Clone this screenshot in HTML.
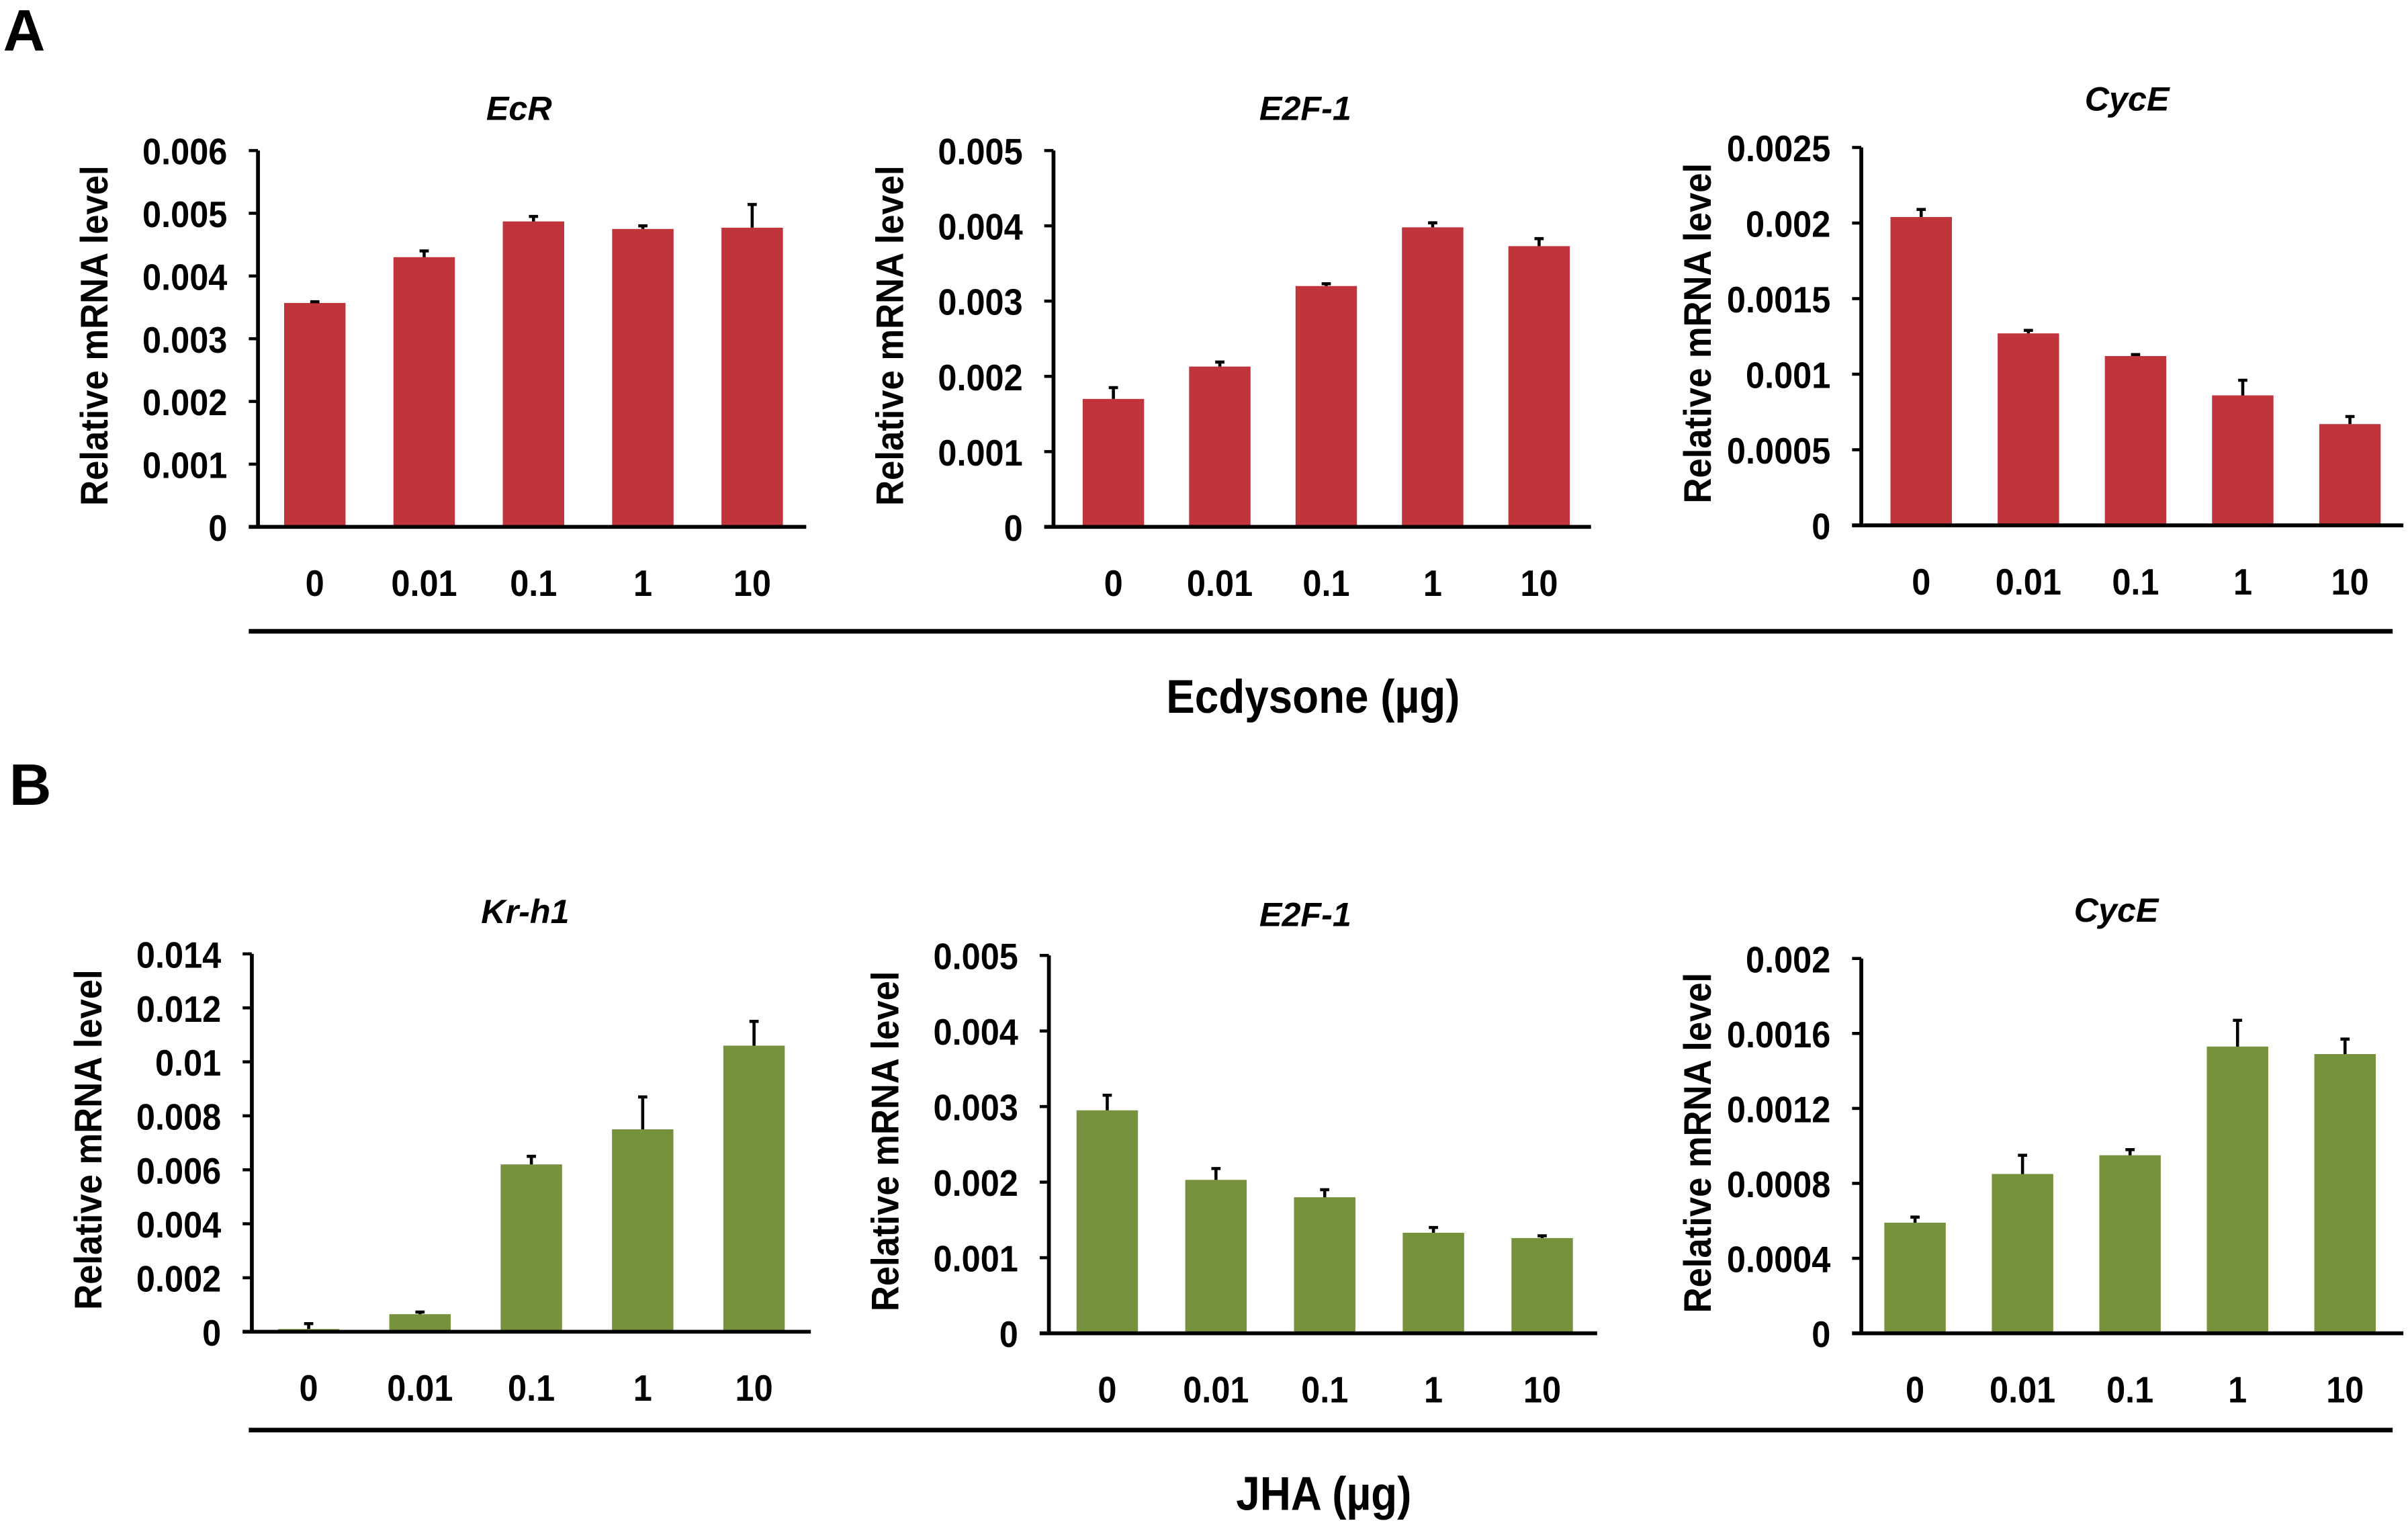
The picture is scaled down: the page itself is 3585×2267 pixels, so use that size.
<!DOCTYPE html>
<html><head><meta charset="utf-8"><style>
html,body{margin:0;padding:0;background:#fff;}
svg{display:block;}
text{font-family:"Liberation Sans",Arial,sans-serif;font-weight:bold;fill:#000;}
</style></head>
<body>
<svg id="fig" width="3585" height="2267" viewBox="0 0 1568 991.5" xmlns="http://www.w3.org/2000/svg">
<text x="2" y="33" font-size="38">A</text>
<text x="6" y="524" font-size="38">B</text>
<line x1="162" y1="411" x2="1558" y2="411" stroke="#000" stroke-width="3"/>
<text x="855" y="464" font-size="31" text-anchor="middle" transform="translate(855 0) scale(0.9 1) translate(-855 0)">Ecdysone (µg)</text>
<line x1="162" y1="931" x2="1558" y2="931" stroke="#000" stroke-width="3"/>
<text x="862" y="983" font-size="31" text-anchor="middle" transform="translate(862 0) scale(0.9 1) translate(-862 0)">JHA (µg)</text>
</svg>
<script>
const categories = ["0","0.01","0.1","1","10"];
const ecrValues = [0.00357,0.0043,0.00487,0.00475,0.00477];
const ecrErrors = [0.00002,0.0001,0.00008,0.00005,0.00037];
const ecrTicks = ["0","0.001","0.002","0.003","0.004","0.005","0.006"];
const e2fAValues = [0.0017,0.00213,0.0032,0.00398,0.00373];
const e2fAErrors = [0.00015,0.00006,0.00003,0.00006,0.0001];
const e2fATicks = ["0","0.001","0.002","0.003","0.004","0.005"];
const cycAValues = [0.00204,0.00127,0.00112,0.00086,0.00067];
const cycAErrors = [0.00005,0.00002,0.00001,0.0001,0.00005];
const cycATicks = ["0","0.0005","0.001","0.0015","0.002","0.0025"];
const krValues = [0.0001,0.00065,0.0062,0.0075,0.0106];
const krErrors = [0.0002,0.00008,0.0003,0.0012,0.0009];
const krTicks = ["0","0.002","0.004","0.006","0.008","0.01","0.012","0.014"];
const e2fBValues = [0.00295,0.00203,0.0018,0.00133,0.00126];
const e2fBErrors = [0.0002,0.00015,0.0001,0.00007,0.00003];
const e2fBTicks = ["0","0.001","0.002","0.003","0.004","0.005"];
const cycBValues = [0.00059,0.00085,0.00095,0.00153,0.00149];
const cycBErrors = [0.00003,0.0001,0.00003,0.00014,0.00008];
const cycBTicks = ["0","0.0004","0.0008","0.0012","0.0016","0.002"];

const NS="http://www.w3.org/2000/svg";
const svg=document.getElementById('fig');
function mk(tag,attrs,parent){const e=document.createElementNS(NS,tag);for(const k in attrs)e.setAttribute(k,attrs[k]);(parent||svg).appendChild(e);return e;}

function chart(o){
  const g=mk('g',{});
  
  
  const max=parseFloat(o.ticks[o.ticks.length-1]);
  const y=v=>o.bottom-(v/max)*(o.bottom-o.top);
  const x=i=>o.x0+i*o.step;
  const t=mk('text',{x:o.tx,y:o.ty,'font-size':22,'font-style':'italic','text-anchor':'middle'},g);
  t.textContent=o.title;
  
  
  const yl=mk('text',{x:0,y:0,'font-size':25,'text-anchor':'middle',transform:`translate(${o.axisX-98} ${(o.top+o.bottom)/2 - 2}) rotate(-90) scale(0.92 1)`},g);
  yl.textContent='Relative mRNA level';
  
  
  o.values.forEach((v,i)=>{
    const cx=x(i);
    const b=mk('rect',{x:cx-20,y:y(v),width:40,height:o.bottom-y(v),fill:o.color},g);
    
    
    const ye=y(v+o.errors[i]);
    const e=mk('path',{d:`M${cx} ${y(v)}V${ye}M${cx-3} ${ye}H${cx+3}`,stroke:'#000','stroke-width':2,fill:'none'},g);
    
    
    const lab=mk('text',{x:0,y:0,'font-size':24,'text-anchor':'middle',transform:`translate(${cx} ${o.bottom+45}) scale(0.92 1)`},g);
    lab.textContent=categories[i];
    
    
  });
  const ax=mk('path',{d:`M${o.axisX} ${o.top}V${o.bottom}M${o.axisX-6} ${o.bottom}H${o.xEnd}`,stroke:'#000','stroke-width':2.5,fill:'none'},g);
  
  
  o.ticks.forEach(tk=>{
    const ty=y(parseFloat(tk));
    mk('line',{x1:o.axisX-6,y1:ty,x2:o.axisX,y2:ty,stroke:'#000','stroke-width':2},g);
    const tl=mk('text',{x:0,y:0,'font-size':24,'text-anchor':'end',transform:`translate(${o.axisX-20} ${ty+9}) scale(0.92 1)`},g);
    tl.textContent=tk;
    
    
  });
}
const RED='#c0343b', GREEN='#76923c';
chart({name:'ecr',title:'EcR',values:ecrValues,errors:ecrErrors,ticks:ecrTicks,axisX:168,top:98,bottom:343,xEnd:525,x0:205,step:71.2,tx:338,ty:78,color:RED});
chart({name:'e2f1-ecdysone',title:'E2F-1',values:e2fAValues,errors:e2fAErrors,ticks:e2fATicks,axisX:686,top:98,bottom:343,xEnd:1036,x0:725,step:69.3,tx:850,ty:78,color:RED});
chart({name:'cyce-ecdysone',title:'CycE',values:cycAValues,errors:cycAErrors,ticks:cycATicks,axisX:1212,top:96,bottom:342,xEnd:1565,x0:1251,step:69.8,tx:1385,ty:72,color:RED});
chart({name:'kr-h1',title:'Kr-h1',values:krValues,errors:krErrors,ticks:krTicks,axisX:164,top:621,bottom:867,xEnd:528,x0:201,step:72.5,tx:342,ty:601,color:GREEN});
chart({name:'e2f1-jha',title:'E2F-1',values:e2fBValues,errors:e2fBErrors,ticks:e2fBTicks,axisX:683,top:622,bottom:868,xEnd:1040,x0:721,step:70.8,tx:850,ty:603,color:GREEN});
chart({name:'cyce-jha',title:'CycE',values:cycBValues,errors:cycBErrors,ticks:cycBTicks,axisX:1212,top:624,bottom:868,xEnd:1565,x0:1247,step:70,tx:1378,ty:600,color:GREEN});
</script>
</body></html>
